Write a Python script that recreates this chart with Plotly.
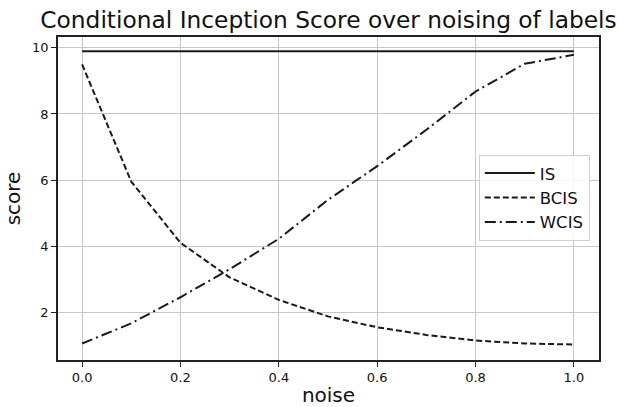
import plotly.graph_objects as go

noise = [0.0, 0.1, 0.2, 0.3, 0.4, 0.5, 0.6, 0.7, 0.8, 0.9, 1.0]
IS = [9.9] * 11
BCIS = [9.5, 5.95, 4.1, 3.05, 2.37, 1.87, 1.54, 1.31, 1.14, 1.05, 1.02]
WCIS = [1.05, 1.66, 2.45, 3.3, 4.22, 5.4, 6.42, 7.52, 8.68, 9.52, 9.79]
x_ticks = [0.0, 0.2, 0.4, 0.6, 0.8, 1.0]
y_ticks = [2, 4, 6, 8, 10]

fig = go.Figure()
fig.add_trace(go.Scatter(x=noise, y=IS, mode="lines", name="IS",
                         line=dict(color="#1a1a1a", width=2, dash="solid")))
fig.add_trace(go.Scatter(x=noise, y=BCIS, mode="lines", name="BCIS",
                         line=dict(color="#1a1a1a", width=2, dash="6px,3px")))
fig.add_trace(go.Scatter(x=noise, y=WCIS, mode="lines", name="WCIS",
                         line=dict(color="#1a1a1a", width=2, dash="11px,4px,2px,4px")))

font = "DejaVu Sans, sans-serif"
fig.update_layout(
    width=619, height=407,
    margin=dict(l=58, r=20, t=37, b=47, autoexpand=False),
    paper_bgcolor="white", plot_bgcolor="white",
    font=dict(family=font, color="#111"),
    title=dict(text="Conditional Inception Score over noising of labels",
               x=(58 + 599) / 2 / 619, xanchor="center", y=1 - 20 / 407, yanchor="middle",
               font=dict(size=23.3, family=font, color="#111")),
    showlegend=True,
    legend=dict(x=0.983, xanchor="right", y=0.635, yanchor="top",
                bgcolor="rgba(255,255,255,0.85)", bordercolor="#d0d0d0", borderwidth=1,
                font=dict(size=16.5, family=font, color="#111"),
                itemwidth=50, tracegroupgap=4),
    xaxis=dict(range=[-0.049, 1.051], tickvals=x_ticks, ticktext=[f"{v:.1f}" for v in x_ticks],
               showgrid=True, gridcolor="#c8c8c8", gridwidth=1, automargin=False,
               showline=True, linecolor="#222", linewidth=1.5, mirror=True,
               ticks="outside", ticklen=5, tickcolor="#222", zeroline=False,
               tickfont=dict(size=13, family=font, color="#111"),
               title=dict(text="noise", font=dict(size=20, family=font, color="#111"), standoff=8)),
    yaxis=dict(range=[0.55, 10.33], tickvals=y_ticks, ticktext=[str(v) for v in y_ticks],
               showgrid=True, gridcolor="#c8c8c8", gridwidth=1, automargin=False,
               showline=True, linecolor="#222", linewidth=1.5, mirror=True,
               ticks="outside", ticklen=5, tickcolor="#222", zeroline=False,
               tickfont=dict(size=13, family=font, color="#111"),
               title=dict(text="score", font=dict(size=20, family=font, color="#111"), standoff=6)),
)
fig.write_html("out.html")
